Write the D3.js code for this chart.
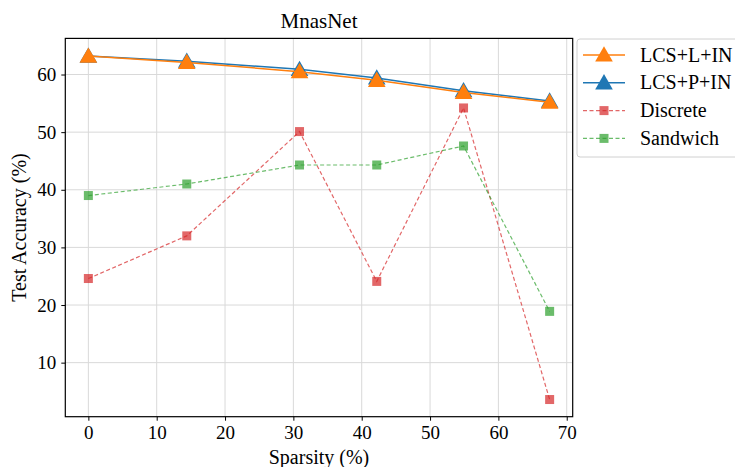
<!DOCTYPE html>
<html>
<head>
<meta charset="utf-8">
<script src="https://cdn.jsdelivr.net/npm/d3@7/dist/d3.min.js"></script>
<style>
  html, body { margin: 0; padding: 0; background: #fff; }
  svg { display: block; }
  text { font-family: "Liberation Serif", "DejaVu Serif", serif; fill: #000; }
</style>
</head>
<body>
<svg id="chart" width="735" height="467"></svg>
<script>
// Sparsity levels (%) on the x axis
const sparsity = [0, 14.4, 30.9, 42.2, 54.9, 67.5];

// Test accuracy (%) for each method
const lcsL = [63.2, 62.1, 60.5, 59.0, 56.9, 55.2];
const lcsP = [63.2, 62.3, 60.9, 59.4, 57.2, 55.4];
const discrete = [24.6, 32.0, 50.1, 24.1, 54.2, 3.6];
const sandwich = [39.0, 41.0, 44.3, 44.3, 47.6, 18.9];

const xTicks = [0, 10, 20, 30, 40, 50, 60, 70];
const yTicks = [10, 20, 30, 40, 50, 60];

const seriesNames = ["LCS+L+IN", "LCS+P+IN", "Discrete", "Sandwich"];

const plot = { left: 65.3, right: 572.7, top: 38.4, bottom: 416.7 };

const svg = d3.select("#chart");

const x = d3.scaleLinear().domain([-3.375, 70.875]).range([plot.left, plot.right]);
const y = d3.scaleLinear().domain([0.62, 66.27]).range([plot.bottom, plot.top]);

// grid
const grid = svg.append("g");
grid.selectAll("line.gx").data(xTicks).join("line")
  .attr("x1", d => x(d)).attr("x2", d => x(d))
  .attr("y1", plot.top).attr("y2", plot.bottom)
  .attr("stroke", "#d9d9d9").attr("stroke-width", 1);
grid.selectAll("line.gy").data(yTicks).join("line")
  .attr("x1", plot.left).attr("x2", plot.right)
  .attr("y1", d => y(d)).attr("y2", d => y(d))
  .attr("stroke", "#d9d9d9").attr("stroke-width", 1);

// axes
const xAxis = d3.axisBottom(x).tickValues(xTicks).tickSize(4).tickPadding(5).tickFormat(d3.format("d"));
const yAxis = d3.axisLeft(y).tickValues(yTicks).tickSize(4).tickPadding(5).tickFormat(d3.format("d"));

const gx = svg.append("g").attr("transform", `translate(0,${plot.bottom})`).call(xAxis);
const gy = svg.append("g").attr("transform", `translate(${plot.left},0)`).call(yAxis);
[gx, gy].forEach(g => {
  g.select(".domain").remove();
  g.selectAll(".tick line").attr("stroke", "#000").attr("stroke-width", 1);
  g.selectAll(".tick text").attr("font-size", 19).attr("font-family", "Liberation Serif, serif").attr("fill", "#000");
});

// frame
svg.append("rect")
  .attr("x", plot.left).attr("y", plot.top)
  .attr("width", plot.right - plot.left).attr("height", plot.bottom - plot.top)
  .attr("fill", "none").attr("stroke", "#000").attr("stroke-width", 1.2);

// labels
svg.append("text").attr("x", (plot.left + plot.right) / 2).attr("y", 28)
  .attr("text-anchor", "middle").attr("font-size", 21).text("MnasNet");
svg.append("text").attr("x", (plot.left + plot.right) / 2).attr("y", 464)
  .attr("text-anchor", "middle").attr("font-size", 20).text("Sparsity (%)");
svg.append("text")
  .attr("transform", `translate(26,${(plot.top + plot.bottom) / 2}) rotate(-90)`)
  .attr("text-anchor", "middle").attr("font-size", 20).text("Test Accuracy (%)");

const marks = svg.append("g");

const line = d3.line().x((d, i) => x(sparsity[i])).y(d => y(d));
const tri = d3.symbol().type(d3.symbolTriangle).size(135);

function drawSeries(values, color, opts) {
  const g = marks.append("g");
  g.append("path").datum(values).attr("d", line)
    .attr("fill", "none").attr("stroke", color)
    .attr("stroke-width", opts.width)
    .attr("stroke-dasharray", opts.dash || null)
    .attr("opacity", opts.alpha || 1);
  if (opts.marker === "tri") {
    g.selectAll("path.m").data(values).join("path")
      .attr("d", tri)
      .attr("transform", (d, i) => `translate(${x(sparsity[i])},${y(d) + 1.5})`)
      .attr("fill", color);
  } else {
    const s = 9;
    g.selectAll("rect.m").data(values).join("rect")
      .attr("x", (d, i) => x(sparsity[i]) - s / 2)
      .attr("y", d => y(d) - s / 2)
      .attr("width", s).attr("height", s)
      .attr("fill", color).attr("opacity", opts.alpha || 1);
  }
}

const colors = { lcsL: "#ff7f0e", lcsP: "#1f77b4", discrete: "#d62728", sandwich: "#2ca02c" };

drawSeries(discrete, colors.discrete, { width: 1.2, dash: "4,2.5", alpha: 0.7, marker: "sq" });
drawSeries(sandwich, colors.sandwich, { width: 1.2, dash: "4,2.5", alpha: 0.7, marker: "sq" });
drawSeries(lcsP, colors.lcsP, { width: 1.5, marker: "tri" });
drawSeries(lcsL, colors.lcsL, { width: 1.5, marker: "tri" });

// legend
const leg = svg.append("g");
leg.append("rect").attr("x", 577).attr("y", 39).attr("width", 170).attr("height", 118)
  .attr("rx", 3).attr("fill", "#fff").attr("fill-opacity", 0.85)
  .attr("stroke", "#d0d0d0").attr("stroke-width", 1);

const legItems = [
  { name: seriesNames[0], color: colors.lcsL, marker: "tri" },
  { name: seriesNames[1], color: colors.lcsP, marker: "tri" },
  { name: seriesNames[2], color: colors.discrete, marker: "sq", dash: "4,2.5", alpha: 0.7 },
  { name: seriesNames[3], color: colors.sandwich, marker: "sq", dash: "4,2.5", alpha: 0.7 }
];
legItems.forEach((it, i) => {
  const cy = 55 + i * 27.8;
  const g = leg.append("g");
  g.append("line").attr("x1", 583).attr("x2", 625).attr("y1", cy).attr("y2", cy)
    .attr("stroke", it.color).attr("stroke-width", it.marker === "tri" ? 1.5 : 1.2)
    .attr("stroke-dasharray", it.dash || null).attr("opacity", it.alpha || 1);
  if (it.marker === "tri") {
    g.append("path").attr("d", tri).attr("transform", `translate(604,${cy + 1.5})`).attr("fill", it.color);
  } else {
    g.append("rect").attr("x", 604 - 4.5).attr("y", cy - 4.5).attr("width", 9).attr("height", 9)
      .attr("fill", it.color).attr("opacity", it.alpha);
  }
  g.append("text").attr("x", 640).attr("y", cy + 6.5).attr("font-size", 20).text(it.name);
});
</script>
</body>
</html>
